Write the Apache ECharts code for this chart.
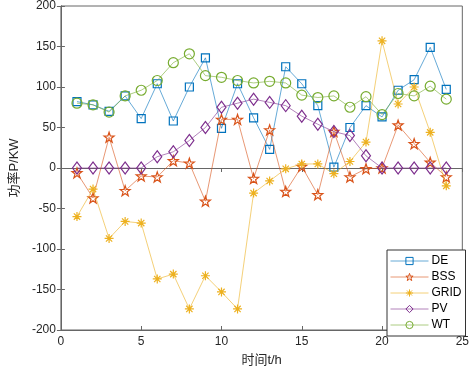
<!DOCTYPE html>
<html>
<head>
<meta charset="utf-8">
<script src="https://cdn.jsdelivr.net/npm/echarts@6/dist/echarts.min.js"></script>
<style>
html,body{margin:0;padding:0;background:#fff;}
#c{width:472px;height:372px;}
</style>
</head>
<body>
<div id="c"></div>
<script>
const hours = [1,2,3,4,5,6,7,8,9,10,11,12,13,14,15,16,17,18,19,20,21,22,23,24];
const seriesNames = ['DE','BSS','GRID','PV','WT'];
const DE   = [82, 78, 70, 89, 61, 104, 58, 100, 136, 49, 104, 62, 23, 125, 104, 77, 1, 50, 77, 63, 96, 109, 149, 97];
const BSS  = [-6, -37, 38, -28, -10, -11, 9, 6, -41, 60, 60, -13, 47, -29, 2, -33, 45, -11, -1, 0, 53, 30, 7, -11];
const GRID = [-60, -26, -87, -66, -68, -137, -131, -174, -133, -153, -174, -31, -16, -1, 5, 5, -7, 8, 32, 157, 79, 100, 44, -22];
const PV   = [0, 0, 0, 0, 0, 14, 20, 34, 50, 75, 80, 85, 81, 77, 64, 54, 45, 40, 15, 0, 0, 0, 0, 0];
const WT   = [80, 78, 69, 89, 96, 108, 130, 141, 114, 112, 108, 105, 107, 105, 90, 87, 89, 75, 88, 66, 92, 89, 101, 85];
const xTicks = [0, 5, 10, 15, 20, 25];
const yTicks = [-200, -150, -100, -50, 0, 50, 100, 150, 200];

const colors = ['#0072BD', '#D95319', '#EDB120', '#7E2F8E', '#77AC30'];
const symbols = [
  'rect',
  'path://M0,-10 L2.35,-3.24 L9.51,-3.09 L3.8,1.24 L5.88,8.09 L0,4 L-5.88,8.09 L-3.8,1.24 L-9.51,-3.09 L-2.35,-3.24 Z',
  'path://M0,-10 L0,10 M-10,0 L10,0 M-7,-7 L7,7 M-7,7 L7,-7 M-2,-2 L2,-2 L2,2 L-2,2 Z',
  'path://M0,-10 L7,0 L0,10 L-7,0 Z',
  'circle'
];
const sizes = [8, 10, 9, [9, 12], 10];
const values = [DE, BSS, GRID, PV, WT];

const font = '"Liberation Sans", Arial, "Noto Sans CJK SC", sans-serif';
const axisCol = '#666';
const txtCol = '#262626';
const clear = 'rgba(255,255,255,0)';

const chart = echarts.init(document.getElementById('c'), null, {renderer: 'canvas'});
chart.setOption({
  animation: false,
  backgroundColor: '#fff',
  grid: {left: 51, right: 7, top: 6, bottom: 38, show: true, borderColor: axisCol, borderWidth: 1},
  legend: {
    orient: 'vertical',
    left: 387, top: 250,
    data: seriesNames.map((n, k) => ({
      name: n,
      itemStyle: {color: clear, borderColor: colors[k], borderWidth: 1},
      lineStyle: {color: colors[k], width: 1, opacity: 0.6}
    })),
    itemWidth: 38, itemHeight: 9, itemGap: 2,
    padding: [4, 4, 4, 3],
    borderColor: '#333', borderWidth: 1,
    backgroundColor: '#fff',
    textStyle: {fontFamily: font, fontSize: 12, color: '#000', lineHeight: 14, height: 14, padding: [0, 0, 0, -2]}
  },
  xAxis: [{
    type: 'value', min: 0, max: 25, interval: 5,
    name: '时间t/h', nameLocation: 'middle', nameGap: 24,
    nameTextStyle: {fontFamily: font, fontSize: 13, color: txtCol},
    axisLine: {show: true, onZero: false, lineStyle: {color: axisCol}},
    axisTick: {show: true, inside: true, length: 4, lineStyle: {color: axisCol}},
    axisLabel: {fontFamily: font, fontSize: 12, color: txtCol, margin: 6,
      formatter: v => xTicks.includes(v) ? String(v) : ''},
    splitLine: {show: false}
  }, {
    type: 'value', min: 0, max: 25, interval: 5, position: 'top',
    axisLine: {show: true, lineStyle: {color: axisCol}},
    axisTick: {show: true, inside: true, length: 4, lineStyle: {color: axisCol}},
    axisLabel: {show: false}, splitLine: {show: false}
  }],
  yAxis: [{
    type: 'value', min: -200, max: 200, interval: 50,
    name: '功率P/KW', nameLocation: 'middle', nameGap: 34, nameRotate: 90,
    nameTextStyle: {fontFamily: font, fontSize: 13, color: txtCol},
    axisLine: {show: true, onZero: false, lineStyle: {color: axisCol}},
    axisTick: {show: true, inside: true, length: 4, lineStyle: {color: axisCol}},
    axisLabel: {fontFamily: font, fontSize: 12, color: txtCol, margin: 5,
      formatter: v => yTicks.includes(v) ? String(v) : ''},
    splitLine: {show: false}
  }, {
    type: 'value', min: -200, max: 200, interval: 50, position: 'right',
    axisLine: {show: true, lineStyle: {color: axisCol}},
    axisTick: {show: true, inside: true, length: 4, lineStyle: {color: axisCol}},
    axisLabel: {show: false}, splitLine: {show: false}
  }],
  series: seriesNames.map((name, k) => ({
    name: name,
    type: 'line',
    xAxisIndex: 0, yAxisIndex: 0,
    data: hours.map((h, i) => [h, values[k][i]]),
    symbol: symbols[k],
    symbolSize: sizes[k],
    showAllSymbol: true,
    color: colors[k],
    lineStyle: {color: colors[k], width: 1, opacity: 0.6},
    itemStyle: {color: clear, borderColor: colors[k], borderWidth: 1.2},
    emphasis: {disabled: true},
    z: 2 + k
  }))
});
</script>
</body>
</html>
